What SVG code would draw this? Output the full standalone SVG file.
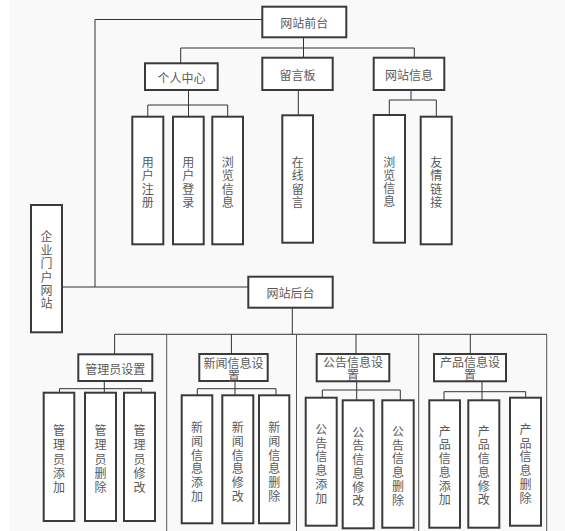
<svg xmlns="http://www.w3.org/2000/svg" width="565" height="531" viewBox="0 0 565 531">
<style>
.b{fill:#fff;stroke:#3a3a3a;stroke-width:2}
.t{font-family:"Liberation Sans","Noto Sans CJK SC",sans-serif;font-size:12px;fill:#5a5a5a;text-anchor:middle;dominant-baseline:central}
.c{fill:none;stroke:#333;stroke-width:1}
.s{fill:none;stroke:#555;stroke-width:1}
</style>
<rect x="10" y="0" width="555" height="531" fill="#f9f9f9"/>
<g id="connectors">
<polyline class="c" points="262.3,19.5 95,19.5 95,287"/>
<line class="c" x1="62" y1="287" x2="248.3" y2="287"/>
<line class="c" x1="303.5" y1="37.3" x2="303.5" y2="57.7"/>
<polyline class="c" points="180.7,63.3 180.7,48 414.3,48 414.3,57.7"/>
<line class="c" x1="188.5" y1="90" x2="188.5" y2="116.7"/>
<polyline class="c" points="147.8,116.7 147.8,105 227.7,105 227.7,116.7"/>
<line class="c" x1="298.3" y1="90" x2="298.3" y2="115.3"/>
<line class="c" x1="411" y1="90" x2="411" y2="100"/>
<polyline class="c" points="389.3,115 389.3,100 436.3,100 436.3,116.7"/>
<line class="c" x1="292.3" y1="307.7" x2="292.3" y2="334.3"/>
<line class="c" x1="114.6" y1="334.3" x2="547" y2="334.3"/>
<line class="c" x1="114.6" y1="334.3" x2="114.6" y2="354.3"/>
<line class="c" x1="231.4" y1="334.3" x2="231.4" y2="354"/>
<line class="c" x1="356" y1="334.3" x2="356" y2="354"/>
<line class="c" x1="470.3" y1="334.3" x2="470.3" y2="354"/>
<line class="s" x1="166.7" y1="334.3" x2="166.7" y2="531"/>
<line class="s" x1="296.5" y1="334.3" x2="296.5" y2="531"/>
<line class="s" x1="418.7" y1="334.3" x2="418.7" y2="531"/>
<line class="s" x1="546.7" y1="334.3" x2="546.7" y2="531"/>
<line class="c" x1="104.3" y1="381" x2="104.3" y2="392.7"/>
<polyline class="c" points="59.5,392.7 59.5,388.7 141.3,388.7 141.3,392.7"/>
<line class="c" x1="235" y1="381" x2="235" y2="395.3"/>
<polyline class="c" points="197.3,395.3 197.3,388.7 276,388.7 276,395.3"/>
<line class="c" x1="356.7" y1="381.3" x2="356.7" y2="400.3"/>
<polyline class="c" points="322.3,397.7 322.3,390 400.3,390 400.3,400.3"/>
<line class="c" x1="482" y1="381.3" x2="482" y2="400.3"/>
<polyline class="c" points="444,400.3 444,391.7 525.7,391.7 525.7,397.7"/>
</g>
<g id="n-qianta"><rect class="b" x="262.3" y="6.7" width="84" height="30.6"/><text class="t" x="304.3" y="24">网站前台</text></g>
<g id="n-geren"><rect class="b" x="145" y="63.3" width="72.7" height="26.7"/><text class="t" x="181.5" y="78.5">个人中心</text></g>
<g id="n-liuyanban"><rect class="b" x="262.3" y="57.7" width="70.4" height="32.3"/><text class="t" x="297.5" y="75.5">留言板</text></g>
<g id="n-xinxi"><rect class="b" x="373.7" y="57.7" width="70.6" height="32.3"/><text class="t" x="409" y="75.5">网站信息</text></g>
<g id="n-zhuce"><rect class="b" x="132.3" y="116.7" width="31" height="127.6"/><text class="t" x="147.8" y="162.5"><tspan x="147.8">用</tspan><tspan x="147.8" dy="13.6">户</tspan><tspan x="147.8" dy="13.6">注</tspan><tspan x="147.8" dy="13.6">册</tspan></text></g>
<g id="n-denglu"><rect class="b" x="173" y="116.7" width="30.7" height="127.6"/><text class="t" x="188.3" y="162.5"><tspan x="188.3">用</tspan><tspan x="188.3" dy="13.6">户</tspan><tspan x="188.3" dy="13.6">登</tspan><tspan x="188.3" dy="13.6">录</tspan></text></g>
<g id="n-liulan1"><rect class="b" x="212.3" y="116.7" width="30.7" height="127.6"/><text class="t" x="227.7" y="162.5"><tspan x="227.7">浏</tspan><tspan x="227.7" dy="13.6">览</tspan><tspan x="227.7" dy="13.6">信</tspan><tspan x="227.7" dy="13.6">息</tspan></text></g>
<g id="n-zaixian"><rect class="b" x="282.3" y="115.3" width="30.7" height="127.4"/><text class="t" x="297.7" y="162.5"><tspan x="297.7">在</tspan><tspan x="297.7" dy="13.6">线</tspan><tspan x="297.7" dy="13.6">留</tspan><tspan x="297.7" dy="13.6">言</tspan></text></g>
<g id="n-liulan2"><rect class="b" x="373.7" y="115" width="31.3" height="127.7"/><text class="t" x="389.3" y="162.5"><tspan x="389.3">浏</tspan><tspan x="389.3" dy="13.3">览</tspan><tspan x="389.3" dy="13.3">信</tspan><tspan x="389.3" dy="13.3">息</tspan></text></g>
<g id="n-youqing"><rect class="b" x="420.7" y="116.7" width="31" height="127.6"/><text class="t" x="436.2" y="163"><tspan x="436.2">友</tspan><tspan x="436.2" dy="13.3">情</tspan><tspan x="436.2" dy="13.3">链</tspan><tspan x="436.2" dy="13.3">接</tspan></text></g>
<g id="n-root"><rect class="b" x="31" y="205" width="31" height="127.3"/><text class="t" x="46.5" y="237.3"><tspan x="46.5">企</tspan><tspan x="46.5" dy="13.4">业</tspan><tspan x="46.5" dy="13.4">门</tspan><tspan x="46.5" dy="13.4">户</tspan><tspan x="46.5" dy="13.4">网</tspan><tspan x="46.5" dy="13.4">站</tspan></text></g>
<g id="n-houtai"><rect class="b" x="248.3" y="276.7" width="84.4" height="31"/><text class="t" x="290.5" y="294">网站后台</text></g>
<g id="n-guanli"><rect class="b" x="78.3" y="354.3" width="74" height="26.7"/><text class="t" x="115.3" y="370">管理员设置</text></g>
<g id="n-xinwen"><rect class="b" x="199.3" y="354" width="68.4" height="27"/><text class="t" x="233.5" y="363.5">新闻信息设</text><text class="t" x="234" y="377">置</text></g>
<g id="n-gonggao"><rect class="b" x="316.7" y="354" width="72.6" height="27.3"/><text class="t" x="353" y="363">公告信息设</text><text class="t" x="353" y="376.4">置</text></g>
<g id="n-chanpin"><rect class="b" x="434" y="354" width="72" height="27.3"/><text class="t" x="470" y="363">产品信息设</text><text class="t" x="470" y="376.4">置</text></g>
<g id="n-gl-add"><rect class="b" x="43.7" y="392.7" width="30.6" height="128.3"/><text class="t" x="59" y="431"><tspan x="59">管</tspan><tspan x="59" dy="14.3">理</tspan><tspan x="59" dy="14.3">员</tspan><tspan x="59" dy="14.3">添</tspan><tspan x="59" dy="14.3">加</tspan></text></g>
<g id="n-gl-del"><rect class="b" x="85" y="392.7" width="31" height="128.3"/><text class="t" x="100.5" y="431"><tspan x="100.5">管</tspan><tspan x="100.5" dy="14.3">理</tspan><tspan x="100.5" dy="14.3">员</tspan><tspan x="100.5" dy="14.3">删</tspan><tspan x="100.5" dy="14.3">除</tspan></text></g>
<g id="n-gl-mod"><rect class="b" x="124" y="392.7" width="31" height="128.3"/><text class="t" x="139.5" y="431"><tspan x="139.5">管</tspan><tspan x="139.5" dy="14.3">理</tspan><tspan x="139.5" dy="14.3">员</tspan><tspan x="139.5" dy="14.3">修</tspan><tspan x="139.5" dy="14.3">改</tspan></text></g>
<g id="n-xw-add"><rect class="b" x="181.7" y="395.3" width="30.6" height="128"/><text class="t" x="197" y="428.3"><tspan x="197">新</tspan><tspan x="197" dy="13.7">闻</tspan><tspan x="197" dy="13.7">信</tspan><tspan x="197" dy="13.7">息</tspan><tspan x="197" dy="13.7">添</tspan><tspan x="197" dy="13.7">加</tspan></text></g>
<g id="n-xw-mod"><rect class="b" x="222.3" y="395.3" width="31" height="128"/><text class="t" x="237.8" y="428.3"><tspan x="237.8">新</tspan><tspan x="237.8" dy="13.7">闻</tspan><tspan x="237.8" dy="13.7">信</tspan><tspan x="237.8" dy="13.7">息</tspan><tspan x="237.8" dy="13.7">修</tspan><tspan x="237.8" dy="13.7">改</tspan></text></g>
<g id="n-xw-del"><rect class="b" x="259" y="395.3" width="30.3" height="128"/><text class="t" x="274.2" y="428.3"><tspan x="274.2">新</tspan><tspan x="274.2" dy="13.7">闻</tspan><tspan x="274.2" dy="13.7">信</tspan><tspan x="274.2" dy="13.7">息</tspan><tspan x="274.2" dy="13.7">删</tspan><tspan x="274.2" dy="13.7">除</tspan></text></g>
<g id="n-gg-add"><rect class="b" x="305.7" y="397.7" width="31" height="128"/><text class="t" x="321.2" y="430"><tspan x="321.2">公</tspan><tspan x="321.2" dy="13.7">告</tspan><tspan x="321.2" dy="13.7">信</tspan><tspan x="321.2" dy="13.7">息</tspan><tspan x="321.2" dy="13.7">添</tspan><tspan x="321.2" dy="13.7">加</tspan></text></g>
<g id="n-gg-mod"><rect class="b" x="342.7" y="400.3" width="31" height="128"/><text class="t" x="358.2" y="432.7"><tspan x="358.2">公</tspan><tspan x="358.2" dy="13.7">告</tspan><tspan x="358.2" dy="13.7">信</tspan><tspan x="358.2" dy="13.7">息</tspan><tspan x="358.2" dy="13.7">修</tspan><tspan x="358.2" dy="13.7">改</tspan></text></g>
<g id="n-gg-del"><rect class="b" x="382.3" y="400.3" width="31.4" height="127.4"/><text class="t" x="398" y="432"><tspan x="398">公</tspan><tspan x="398" dy="13.7">告</tspan><tspan x="398" dy="13.7">信</tspan><tspan x="398" dy="13.7">息</tspan><tspan x="398" dy="13.7">删</tspan><tspan x="398" dy="13.7">除</tspan></text></g>
<g id="n-cp-add"><rect class="b" x="429.3" y="400.3" width="30.7" height="127.4"/><text class="t" x="444.7" y="431.7"><tspan x="444.7">产</tspan><tspan x="444.7" dy="13.7">品</tspan><tspan x="444.7" dy="13.7">信</tspan><tspan x="444.7" dy="13.7">息</tspan><tspan x="444.7" dy="13.7">添</tspan><tspan x="444.7" dy="13.7">加</tspan></text></g>
<g id="n-cp-mod"><rect class="b" x="468.3" y="400.3" width="31" height="127.4"/><text class="t" x="483.8" y="431.7"><tspan x="483.8">产</tspan><tspan x="483.8" dy="13.7">品</tspan><tspan x="483.8" dy="13.7">信</tspan><tspan x="483.8" dy="13.7">息</tspan><tspan x="483.8" dy="13.7">修</tspan><tspan x="483.8" dy="13.7">改</tspan></text></g>
<g id="n-cp-del"><rect class="b" x="510" y="397.7" width="31" height="128"/><text class="t" x="525.5" y="430"><tspan x="525.5">产</tspan><tspan x="525.5" dy="13.7">品</tspan><tspan x="525.5" dy="13.7">信</tspan><tspan x="525.5" dy="13.7">息</tspan><tspan x="525.5" dy="13.7">删</tspan><tspan x="525.5" dy="13.7">除</tspan></text></g>
</svg>
